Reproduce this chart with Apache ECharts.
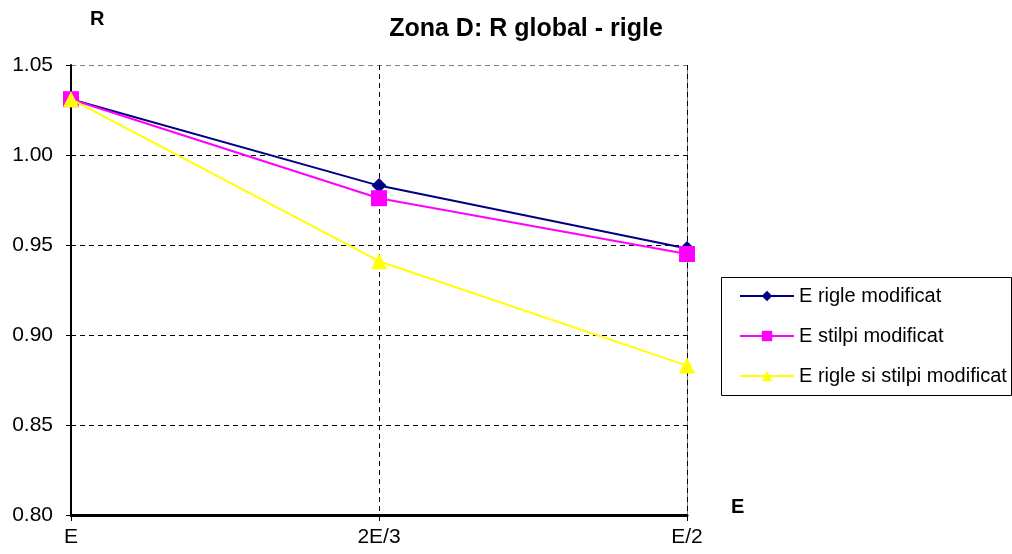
<!DOCTYPE html>
<html style="height: 100%">
<head>
<meta charset="utf-8">
</head>
<body style="height: 100%; margin: 0; background: #fff">
<div id="container" style="width: 1012px; height: 554px"></div>
<script src="https://cdn.jsdelivr.net/npm/echarts@6/dist/echarts.min.js"></script>
<script type="text/javascript">
var categories = ['E', '2E/3', 'E/2'];
var rigleModificat = [1.031, 0.983, 0.948];
var stilpiModificat = [1.031, 0.976, 0.945];
var rigleStilpiModificat = [1.031, 0.941, 0.883];
var yTicks = [0.80, 0.85, 0.90, 0.95, 1.00, 1.05];

var font = '"Liberation Sans", Arial, sans-serif';
var chart = echarts.init(document.getElementById('container'));

var option = {
    backgroundColor: '#fff',
    animation: false,
    title: {
        text: 'Zona D: R global - rigle',
        left: 521,
        textAlign: 'center',
        top: 12,
        textStyle: { fontFamily: font, fontSize: 25, fontWeight: 'bold', color: '#000' }
    },
    graphic: [
        { type: 'text', left: 90, top: 9, style: { text: 'R', font: 'bold 20px ' + font, fill: '#000' } },
        { type: 'text', left: 731, top: 497, style: { text: 'E', font: 'bold 20px ' + font, fill: '#000' } },
        { type: 'rect', shape: { x: 721.5, y: 277.5, width: 290, height: 118 },
          style: { fill: 'none', stroke: '#000', lineWidth: 1 } },
        { type: 'line', shape: { x1: 687.5, y1: 65, x2: 687.5, y2: 515 },
          style: { stroke: '#808080', lineWidth: 1 }, z: 0 }
    ],
    legend: {
        orient: 'vertical',
        left: 739,
        top: 286,
        padding: 0,
        itemWidth: 54,
        itemHeight: 13,
        itemGap: 20,
        textStyle: { fontFamily: font, fontSize: 20, color: '#000' },
        data: ['E rigle modificat', 'E stilpi modificat', 'E rigle si stilpi modificat']
    },
    grid: { left: 71, right: 325, top: 65, bottom: 39 },
    xAxis: {
        type: 'category',
        data: categories,
        boundaryGap: false,
        axisLine: { lineStyle: { color: '#000', width: 3 } },
        axisTick: { show: true, length: 6, alignWithLabel: true, lineStyle: { color: '#000', width: 1 } },
        axisLabel: { fontFamily: font, fontSize: 21, color: '#000', margin: 12 },
        splitLine: { show: true, lineStyle: { color: '#000', type: [5, 4], width: 1 } }
    },
    yAxis: {
        type: 'value',
        min: 0.80,
        max: 1.05,
        interval: 0.05,
        axisLine: { show: true, lineStyle: { color: '#000', width: 2 } },
        axisTick: { show: true, length: 5, lineStyle: { color: '#000' } },
        axisLabel: {
            fontFamily: font, fontSize: 21, color: '#000', margin: 18,
            formatter: function (v) { return v.toFixed(2); }
        },
        splitLine: {
            show: true,
            lineStyle: { color: ['#000', '#000', '#000', '#000', '#000', '#808080'], type: [5, 4], width: 1 }
        }
    },
    series: [{
        name: 'E rigle modificat',
        type: 'line',
        data: rigleModificat,
        symbol: 'diamond',
        symbolSize: 15,
        itemStyle: { color: '#000080' },
        lineStyle: { color: '#000080', width: 2 },
        z: 3
    }, {
        name: 'E stilpi modificat',
        type: 'line',
        data: stilpiModificat,
        symbol: 'rect',
        symbolSize: 16,
        itemStyle: { color: '#ff00ff' },
        lineStyle: { color: '#ff00ff', width: 2 },
        z: 4
    }, {
        name: 'E rigle si stilpi modificat',
        type: 'line',
        data: rigleStilpiModificat,
        symbol: 'triangle',
        symbolSize: 16,
        itemStyle: { color: '#ffff00' },
        lineStyle: { color: '#ffff00', width: 2 },
        z: 5
    }]
};
chart.setOption(option);
</script>
</body>
</html>
